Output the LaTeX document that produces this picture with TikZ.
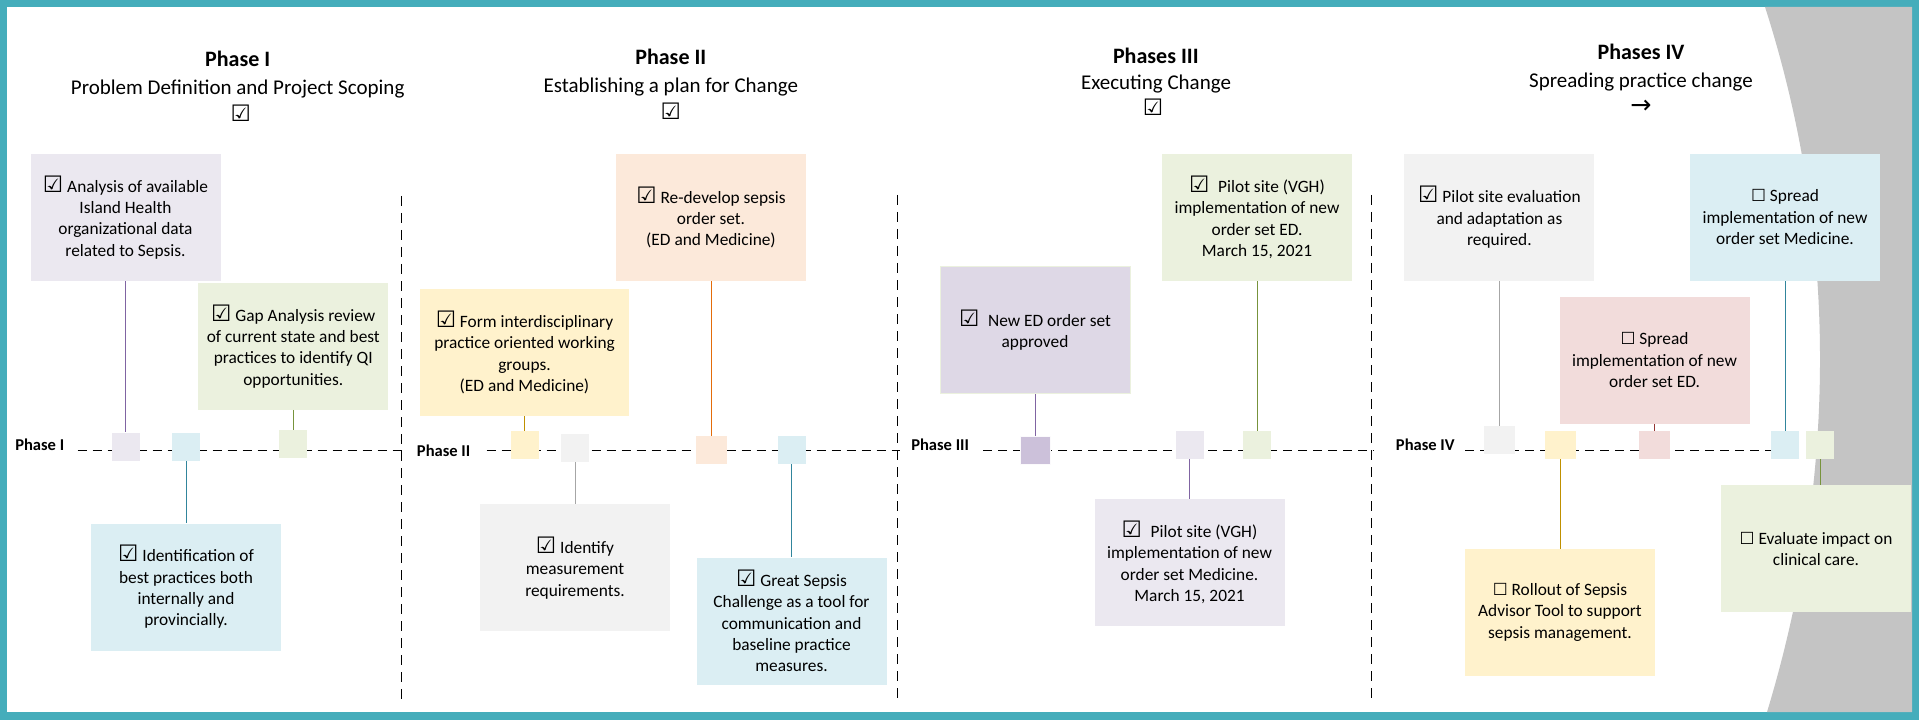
\documentclass[tikz,border=0pt]{standalone}
\usepackage{fontspec}
\setmainfont{Carlito}
\newfontfamily\dejavu{DejaVu Sans}
\usepackage{tikz}

\definecolor{frame}{RGB}{69,173,187}
\definecolor{band}{RGB}{196,196,196}
\definecolor{lilac}{RGB}{235,232,240}
\definecolor{lilacmid}{RGB}{222,216,230}
\definecolor{lilacdark}{RGB}{204,193,218}
\definecolor{sage}{RGB}{235,241,222}
\definecolor{sky}{RGB}{219,238,243}
\definecolor{cream}{RGB}{255,242,204}
\definecolor{mist}{RGB}{242,242,242}
\definecolor{peach}{RGB}{252,233,218}
\definecolor{rose}{RGB}{242,220,219}
\definecolor{lnpurple}{RGB}{128,100,162}
\definecolor{lnteal}{RGB}{49,133,156}
\definecolor{lnolive}{RGB}{119,147,60}
\definecolor{lngold}{RGB}{191,144,0}
\definecolor{lngrey}{RGB}{166,166,166}
\definecolor{lnorange}{RGB}{228,108,10}
\definecolor{lnred}{RGB}{149,55,53}

\newcommand{\ticked}{{\dejavu\bfseries\fontsize{17}{17}\selectfont ☑}}
\newcommand{\unticked}{{\dejavu\fontsize{12.5}{12.5}\selectfont ☐}}

\begin{document}
\begin{tikzpicture}[x=0.75pt,y=-0.75pt,
  task box/.style={rectangle,align=center,inner sep=2pt,
  minimum width=142.5pt,minimum height=95.25pt,
  font=\fontsize{13}{16}\selectfont},
  mark box/.style={rectangle,inner sep=0pt,minimum size=21pt},
  phase title/.style={anchor=base,font=\fontsize{16.5}{20}\selectfont\bfseries},
  phase sub/.style={anchor=base,font=\fontsize{15.75}{19}\selectfont},
  phase tag/.style={anchor=base west,inner sep=0pt,
  font=\fontsize{12.4}{15}\selectfont\bfseries},
  timeline/.style={line width=0.75pt,dash pattern=on 6.75pt off 4.5pt},
  divider/.style={line width=0.75pt,dash pattern=on 7.5pt off 5.25pt},
  link/.style={line width=0.75pt}]

%frame and grey band
  \fill[frame] (0,0) rectangle (1919,720);
  \fill[white] (7,7) rectangle (1912,712);
  \fill[band] (1765,7) .. controls (1840,240) and (1836,485) .. (1767,712)
    -- (1912,712) -- (1912,7) -- cycle;

%headings
  \node[phase title] (H1) at (237.7,66.7) {Phase I};
  \node[phase sub] (S1) at (237.7,95) {Problem Definition and Project Scoping};
  \node[anchor=base] (C1) at (240.7,121.7) {\ticked};

  \node[phase title] (H2) at (670.8,65) {Phase II};
  \node[phase sub] (S2) at (670.8,92.7) {Establishing a plan for Change};
  \node[anchor=base] (C2) at (670.7,120) {\ticked};

  \node[phase title] (H3) at (1155.8,63.3) {Phases III};
  \node[phase sub] (S3) at (1156,90) {Executing Change};
  \node[anchor=base] (C3) at (1153,116) {\ticked};

  \node[phase title] (H4) at (1641,59.3) {Phases IV};
  \node[phase sub] (S4) at (1641,87.3) {Spreading practice change};
  \node (C4) at (1641,106.7) {\dejavu\fontsize{19}{19}\selectfont →};

%dividers
  \coordinate (D1a) at (401.7,196);  \coordinate (D1b) at (401.7,703);
  \coordinate (D2a) at (897.3,195);  \coordinate (D2b) at (897.3,700);
  \coordinate (D3a) at (1371.3,195); \coordinate (D3b) at (1371.3,702);
  \draw[divider] (D1a) -- (D1b);
  \draw[divider] (D2a) -- (D2b);
  \draw[divider] (D3a) -- (D3b);

%timelines
  \node[phase tag] (P1) at (15,450) {Phase I};
  \node[phase tag] (P2) at (416.7,456.7) {Phase II};
  \node[phase tag] (P3) at (911,450) {Phase III};
  \node[phase tag] (P4) at (1395.7,450) {Phase IV};
  \coordinate (A1) at (77.7,450);  \coordinate (B1) at (404,450);
  \coordinate (A2) at (486.7,450); \coordinate (B2) at (900,450);
  \coordinate (A3) at (983.3,450); \coordinate (B3) at (1374,450);
  \coordinate (A4) at (1465,450);  \coordinate (B4) at (1771,450);
  \draw[timeline] (A1) -- (B1);
  \draw[timeline] (A2) -- (B2);
  \draw[timeline] (A3) -- (B3);
  \draw[timeline] (A4) -- (B4);

%phase 1
  \node[task box,fill=lilac] (T1) at (125.5,217.3)
    {\ticked~Analysis of available\\Island Health\\organizational data\\related to Sepsis.};
  \node[task box,fill=sage] (T2) at (293.3,346.2)
    {\ticked~Gap Analysis review\\of current state and best\\practices to identify QI\\opportunities.};
  \node[task box,fill=sky] (T3) at (186,587)
    {\ticked~Identification of\\best practices both\\internally and\\provincially.};
  \node[mark box,fill=lilac] (M1) at (125.5,446.7) {};
  \node[mark box,fill=sage] (M2) at (293.3,443.8) {};
  \node[mark box,fill=sky] (M3) at (186,446.7) {};
  \draw[link,lnpurple] (T1) -- (M1);
  \draw[link,lnolive] (T2) -- (M2);
  \draw[link,lnteal] (M3) -- (T3);

%phase 2
  \node[task box,fill=cream,minimum width=156.75pt] (T4) at (524.5,352.5)
    {\ticked~Form interdisciplinary\\practice oriented working\\groups.\\(ED and Medicine)};
  \node[task box,fill=mist] (T5) at (575,567.8)
    {\ticked~Identify\\measurement\\requirements.};
  \node[task box,fill=peach] (T6) at (711,217.3)
    {\ticked~Re-develop sepsis\\order set.\\(ED and Medicine)};
  \node[task box,fill=sky] (T7) at (791.5,621)
    {\ticked~Great Sepsis\\Challenge as a tool for\\communication and\\baseline practice\\measures.};
  \node[mark box,fill=cream] (M4) at (524.5,445) {};
  \node[mark box,fill=mist] (M5) at (575,448) {};
  \node[mark box,fill=peach,minimum width=23.25pt] (M6) at (711,450) {};
  \node[mark box,fill=sky] (M7) at (791.5,450) {};
  \draw[link,lngold] (T4) -- (M4);
  \draw[link,lngrey] (M5) -- (T5);
  \draw[link,lnorange] (T6) -- (M6);
  \draw[link,lnteal] (M7) -- (T7);

%phase 3
  \node[task box,fill=lilacmid,draw=sage,line width=0.75pt] (T8) at (1035,330)
    {\ticked\enspace New ED order set\\approved};
  \node[task box,fill=lilac] (T9) at (1189.5,562.3)
    {\ticked\enspace Pilot site (VGH)\\implementation of new\\order set Medicine.\\March 15, 2021};
  \node[task box,fill=sage] (T10) at (1257,217.3)
    {\ticked\enspace Pilot site (VGH)\\implementation of new\\order set ED.\\March 15, 2021};
  \node[mark box,fill=lilacdark,draw=white!92!lilacdark,line width=0.75pt,
    minimum width=22.5pt] (M8) at (1035,450.8) {};
  \node[mark box,fill=lilac] (M9) at (1189.5,445) {};
  \node[mark box,fill=sage] (M10) at (1257,445) {};
  \draw[link,lnpurple] (T8) -- (M8);
  \draw[link,lnpurple] (M9) -- (T9);
  \draw[link,lnolive] (T10) -- (M10);

%phase 4
  \node[task box,fill=mist] (T11) at (1499.4,217.3)
    {\ticked~Pilot site evaluation\\and adaptation as\\required.};
  \node[task box,fill=cream] (T12) at (1560,612.3)
    {\unticked~Rollout of Sepsis\\Advisor Tool to support\\sepsis management.};
  \node[task box,fill=rose] (T13) at (1654.5,360)
    {\unticked~Spread\\implementation of new\\order set ED.};
  \node[task box,fill=sky] (T14) at (1785,217.3)
    {\unticked~Spread\\implementation of new\\order set Medicine.};
  \node[task box,fill=sage] (T15) at (1816,548.8)
    {\unticked~Evaluate impact on\\clinical care.};
  \node[mark box,fill=mist,minimum width=23.25pt] (M11) at (1499.4,440) {};
  \node[mark box,fill=cream,minimum width=23.25pt] (M12) at (1560,445) {};
  \node[mark box,fill=rose,minimum width=23.25pt] (M13) at (1654.5,445) {};
  \node[mark box,fill=sky] (M14) at (1785,445) {};
  \node[mark box,fill=sage] (M15) at (1820,445) {};
  \draw[link,lngrey] (T11) -- (M11);
  \draw[link,lngold] (M12) -- (T12);
  \draw[link,lnred] (T13) -- (M13);
  \draw[link,lnteal] (T14) -- (M14);
  \draw[link,lnolive] (M15) -- (M15 |- T15.north);

\end{tikzpicture}
\end{document}
